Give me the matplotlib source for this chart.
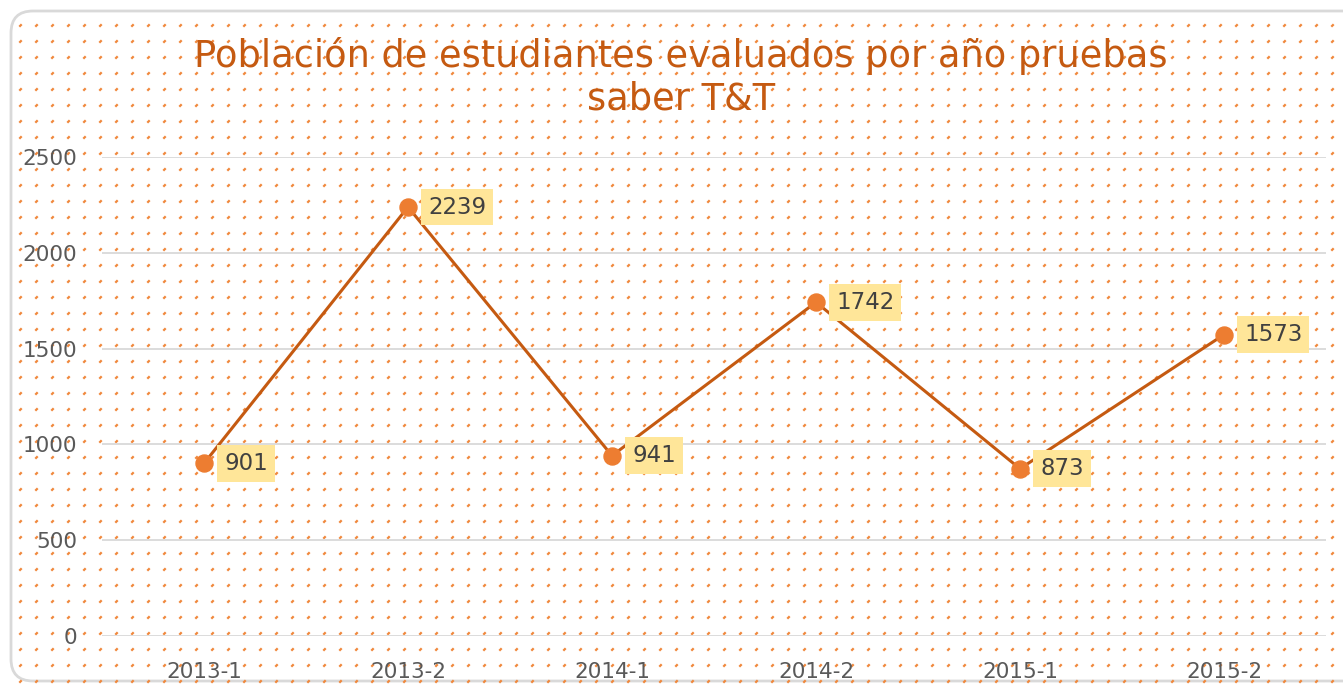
import matplotlib
matplotlib.use("Agg")
import matplotlib.pyplot as plt
from matplotlib.patches import FancyBboxPatch
import numpy as np

categories = ["2013-1", "2013-2", "2014-1", "2014-2", "2015-1", "2015-2"]
values = [901, 2239, 941, 1742, 873, 1573]
yticks = [0, 500, 1000, 1500, 2000, 2500]
title = "Población de estudiantes evaluados por año pruebas\nsaber T&T"

W, H = 1343, 694
fig = plt.figure(figsize=(W / 100, H / 100), dpi=100)
fig.patch.set_facecolor("white")

# background pattern and border
bg = fig.add_axes([0, 0, 1, 1])
bg.set_xlim(0, W)
bg.set_ylim(H, 0)
bg.axis("off")
border = FancyBboxPatch((11, 11), W + 20, H - 24, boxstyle="round,pad=0,rounding_size=22",
                        fc="white", ec="#D9D9D9", lw=2)
bg.add_patch(border)
gx, gy = np.meshgrid(np.arange(20, W, 16), np.arange(25, H - 5, 16))
bg.scatter(gx.ravel(), gy.ravel(), s=6, marker=(2, 0, -45), lw=1.6, c="#F0883C", zorder=2)

ax = fig.add_axes([102 / W, 1 - 636 / H, (1326 - 102) / W, (636 - 157) / H])
ax.patch.set_alpha(0)
x = np.arange(len(categories))
ax.set_xlim(-0.5, len(categories) - 0.5)
ax.set_ylim(0, 2500)
ax.set_yticks(yticks)
ax.set_xticks(x)
ax.set_xticklabels(categories)
for s in ax.spines.values():
    s.set_visible(False)
ax.grid(axis="y", color="#D9D9D9", lw=1.3)
ax.set_axisbelow(True)
ax.tick_params(length=0, labelsize=15.5, labelcolor="#595959")
ax.tick_params(axis="y", pad=18)
ax.tick_params(axis="x", pad=19)

ax.plot(x, values, color="#C55A11", lw=2.2, zorder=3)
ax.scatter(x, values, s=150, color="#ED7D31", zorder=4)
for xi, v in zip(x, values):
    ax.annotate(str(v), (xi, v), xytext=(20, 0), textcoords="offset pixels",
                ha="left", va="center", fontsize=16.5, color="#404040",
                bbox=dict(boxstyle="square,pad=0.3", fc="#FFE699", ec="none"), zorder=5)

fig.text(681 / W, 1 - 77 / H, title, ha="center", va="center", fontsize=26.5,
         color="#C55A11", linespacing=1.2)

fig.savefig("out.png", dpi=100)
